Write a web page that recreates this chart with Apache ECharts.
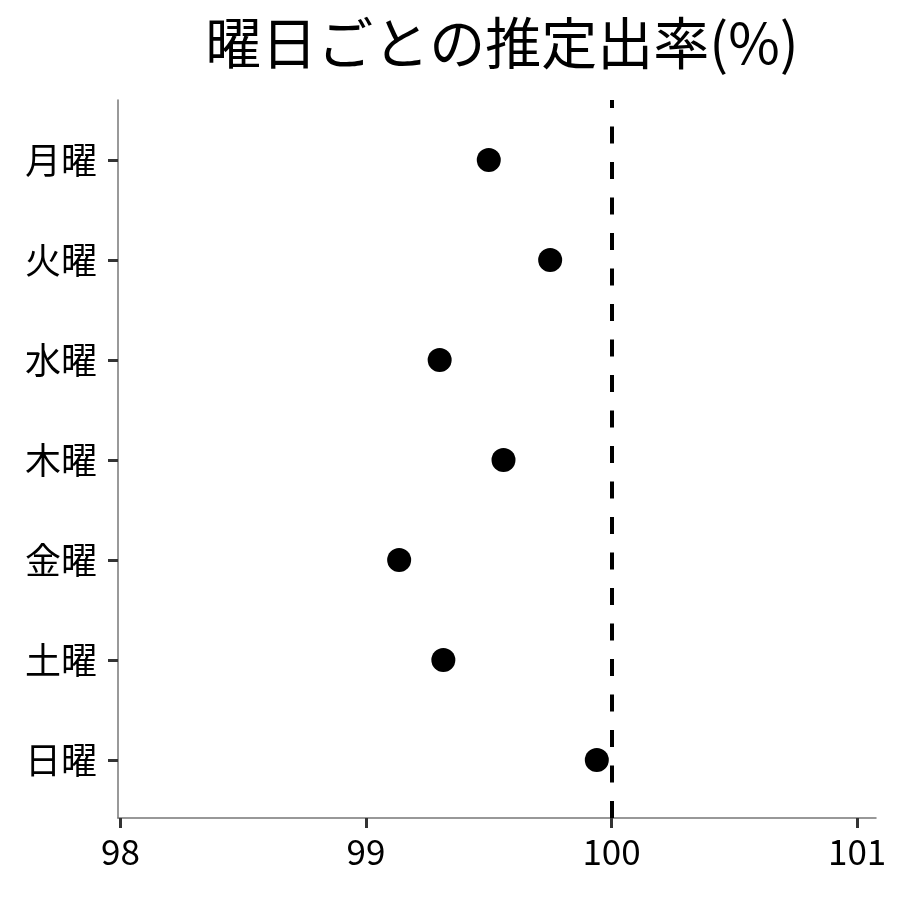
<!DOCTYPE html>
<html>
<head>
<meta charset="utf-8">
<script src="https://cdn.jsdelivr.net/npm/echarts@6/dist/echarts.min.js"></script>
<style>
html,body{margin:0;padding:0;background:#fff;}
#chart{width:900px;height:900px;}
</style>
</head>
<body>
<div id="chart"></div>
<script>
const titleText = '曜日ごとの推定出率(%)';
const categories = ['月曜', '火曜', '水曜', '木曜', '金曜', '土曜', '日曜'];
const rates = [99.50, 99.75, 99.30, 99.56, 99.135, 99.315, 99.94];
const xTicks = [98, 99, 100, 101];
const refValue = 100;

const FONT = '"Noto Sans CJK JP", "Noto Sans", sans-serif';
const yMin = -0.6, yMax = 6.58;

const chart = echarts.init(document.getElementById('chart'));
chart.setOption({
  animation: false,
  backgroundColor: '#fff',
  title: {
    text: titleText,
    left: 497, top: 10, textAlign: 'center',
    textStyle: { fontFamily: FONT, fontSize: 56, fontWeight: 'normal', color: '#000' }
  },
  grid: { left: 118, right: 24, top: 100, bottom: 82 },
  xAxis: {
    type: 'value', min: 97.99, max: 101.077,
    splitLine: { show: false },
    axisLine: { show: true, onZero: false, lineStyle: { color: '#777', width: 1.5 } },
    axisTick: { show: true, customValues: xTicks, length: 10, lineStyle: { color: '#333', width: 3 } },
    axisLabel: { customValues: xTicks, margin: 16, fontFamily: FONT, fontSize: 35, color: '#000' }
  },
  yAxis: {
    type: 'value', inverse: true, min: yMin, max: yMax,
    splitLine: { show: false },
    axisLine: { show: true, onZero: false, lineStyle: { color: '#777', width: 1.5 } },
    axisTick: { show: true, customValues: categories.map((c, i) => i), length: 10, lineStyle: { color: '#333', width: 3 } },
    axisLabel: {
      customValues: categories.map((c, i) => i),
      formatter: v => categories[Math.round(v)] || '',
      margin: 21, fontFamily: FONT, fontSize: 36, color: '#000'
    }
  },
  series: [{
    type: 'scatter',
    symbol: 'circle', symbolSize: 24,
    itemStyle: { color: '#000', opacity: 1 },
    data: rates.map((v, i) => [v, i]),
    markLine: {
      silent: true, symbol: 'none',
      label: { show: false },
      lineStyle: { color: '#000', width: 4, type: [17, 18.5], opacity: 1 },
      data: [[{ coord: [refValue, yMax] }, { coord: [refValue, yMin] }]]
    },
    z: 3
  }]
});
</script>
</body>
</html>
